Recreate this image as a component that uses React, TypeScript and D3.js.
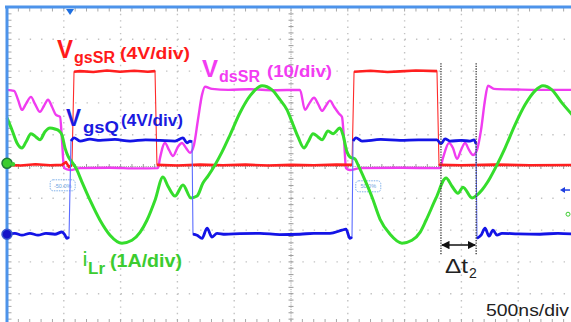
import React from "react";
import * as d3 from "d3";

type P = [number, number];

// time axis: ns (500 ns/div), vertical axis: divisions from screen centre
const timeTicks = [0, 500, 1000, 1500, 2000, 2500, 3000, 3500, 4000, 4500, 5000];
const divTicks = [-5, -4, -3, -2, -1, 0, 1, 2, 3, 4, 5];

const vgsSR: P[] = [
  [0, 0.05], [120, 0.03], [250, 0.07], [380, 0.04], [484, 0.05], [519, 0.14], [546, -0.02], [572, 0.05],
  [590, 2.98], [643, 3.0], [760, 2.97], [880, 3.02], [995, 2.98], [1120, 3.01], [1240, 2.98], [1303, 3.0],
  [1320, 0.05], [1500, 0.03], [1700, 0.06], [1900, 0.04], [2100, 0.06], [2300, 0.03], [2500, 0.05],
  [2700, 0.04], [2900, 0.06], [3037, 0.05], [3055, 2.98], [3200, 3.01], [3350, 2.97], [3460, 2.99],
  [3600, 3.02], [3785, 3.0], [3803, 0.05], [4000, 0.04], [4300, 0.06], [4600, 0.04], [5000, 0.05],
];

const vdsSR: P[] = [
  [0, 2.41], [62, 2.38], [97, 2.1], [132, 1.78], [167, 1.97], [211, 2.19], [246, 1.97], [290, 1.72],
  [326, 1.91], [361, 2.1], [396, 1.88], [431, 1.62], [467, 1.56], [484, 0.84], [502, -0.05], [555, -0.11],
  [643, -0.05], [900, -0.04], [1150, -0.06], [1329, -0.05], [1347, 0.27], [1391, 0.74], [1426, 0.52],
  [1461, 0.33], [1505, 0.62], [1540, 0.74], [1576, 0.58], [1611, 0.43], [1646, 0.68], [1681, 1.47],
  [1717, 2.26], [1743, 2.51], [1805, 2.44], [1950, 2.41], [2139, 2.43], [2350, 2.4], [2579, 2.41],
  [2623, 1.78], [2659, 1.97], [2703, 2.16], [2738, 1.97], [2773, 1.75], [2808, 1.91], [2843, 2.07],
  [2879, 1.88], [2923, 1.66], [2949, 1.56], [2967, 0.84], [2984, -0.05], [3019, -0.11], [3107, -0.05],
  [3450, -0.04], [3812, -0.05], [3838, 0.27], [3891, 0.74], [3926, 0.58], [3961, 0.24], [3997, 0.52],
  [4032, 0.74], [4067, 0.52], [4102, 0.36], [4137, 0.52], [4173, 1.15], [4208, 2.1], [4234, 2.54],
  [4287, 2.44], [4500, 2.42], [4692, 2.41], [5000, 2.41],
];

const vgsQ: P[] = [
  [0, -2.13], [70, -2.1], [132, -2.16], [202, -2.1], [273, -2.16], [343, -2.1], [422, -2.13], [484, -2.06],
  [511, -2.16], [528, -2.26], [546, -2.22], [563, 0.8], [590, 0.9], [643, 0.8], [730, 0.86], [819, 0.82],
  [950, 0.85], [1083, 0.8], [1220, 0.84], [1347, 0.82], [1479, 0.8], [1549, 0.9], [1584, 0.74], [1611, 0.8],
  [1629, 0.77], [1637, -2.13], [1673, -2.16], [1717, -2.26], [1761, -1.94], [1805, -2.22], [1849, -2.1],
  [1919, -2.13], [2050, -2.11], [2227, -2.1], [2400, -2.14], [2579, -2.13], [2700, -2.1], [2843, -2.1],
  [2949, -2.0], [2984, -1.97], [3019, -2.26], [3037, -2.22], [3046, 0.8], [3072, 0.9], [3125, 0.8],
  [3290, 0.85], [3460, 0.82], [3620, 0.84], [3785, 0.84], [3820, 0.71], [3856, 0.87], [3900, 0.8],
  [4000, 0.82], [4076, 0.8], [4111, 0.84], [4129, 0.71], [4137, -2.26], [4173, -2.16], [4208, -1.94],
  [4243, -2.19], [4278, -2.0], [4313, -2.16], [4357, -2.1], [4500, -2.12], [4692, -2.13], [4850, -2.1],
  [5000, -2.13],
];

const iLr: P[] = [
  [0, 1.53], [44, 1.15], [88, 0.74], [132, 0.58], [167, 0.77], [211, 1.03], [255, 0.93], [290, 0.84],
  [334, 1.09], [378, 1.21], [422, 1.18], [458, 1.12], [484, 0.99], [511, 0.58], [537, 0.33], [572, 0.14],
  [607, -0.05], [660, -0.49], [731, -1.06], [819, -1.69], [907, -2.16], [1012, -2.41], [1100, -2.32],
  [1171, -2.07], [1232, -1.69], [1303, -1.06], [1373, -0.33], [1417, -0.62], [1479, -0.93], [1549, -0.58],
  [1620, -0.99], [1673, -0.93], [1725, -0.52], [1769, -0.3], [1831, 0.05], [1893, 0.46], [1963, 0.99],
  [2051, 1.69], [2139, 2.22], [2245, 2.54], [2333, 2.41], [2403, 2.1], [2465, 1.78], [2509, 1.4],
  [2562, 0.93], [2615, 0.58], [2650, 0.77], [2694, 1.03], [2738, 0.93], [2773, 0.84], [2826, 1.12],
  [2870, 1.03], [2931, 1.21], [2958, 0.99], [2993, 0.46], [3019, 0.3], [3063, 0.24], [3090, 0.05],
  [3151, -0.43], [3213, -0.96], [3284, -1.66], [3372, -2.13], [3477, -2.41], [3565, -2.32], [3636, -2.07],
  [3689, -1.69], [3777, -0.99], [3865, -0.36], [3917, -0.62], [3970, -0.84], [4014, -0.65], [4094, -0.99],
  [4137, -0.9], [4181, -0.74], [4225, -0.52], [4252, -0.36], [4313, 0.05], [4384, 0.58], [4472, 1.31],
  [4560, 1.94], [4648, 2.38], [4718, 2.54], [4797, 2.41], [4885, 2.0], [5000, 1.53],
];

const cursorTimes = [3820, 4130];
const triggerTime = 555;
const channelMarkers = [0.1, -2.13];
const triggerLevelTimes = [380, 3070];
const triggerLevelText = ["-50.0%", "50.0%"];

const labelRed = ["V", "gsSR", "(4V/div)"];
const labelMag = ["V", "dsSR", "(10/div)"];
const labelBlue = ["V", "gsQ", "(4V/div)"];
const labelGreen = ["i", "Lr", "(1A/div)"];
const timebaseText = "500ns/div";

const W = 571;
const H = 322;

export default function App() {
  const x = d3.scaleLinear().domain([0, 5000]).range([7, 575]);
  const y = d3.scaleLinear().domain([-5, 5]).range([325.5, 7.5]);
  const xMinor = (x(500) - x(0)) / 5;
  const yMinor = (y(0) - y(1)) / 5;

  const lineSmooth = d3.line<P>().x((d) => x(d[0])).y((d) => y(d[1])).curve(d3.curveMonotoneX);
  const lineLin = d3.line<P>().x((d) => x(d[0])).y((d) => y(d[1]));

  // split into flat runs (thick) and full trace (thin) to mimic fast faint edges
  const flatRuns = (pts: P[]) => {
    const runs: P[][] = [];
    let cur: P[] = [pts[0]];
    for (let i = 1; i < pts.length; i++) {
      const dx = Math.abs(x(pts[i][0]) - x(pts[i - 1][0]));
      const dy = Math.abs(y(pts[i][1]) - y(pts[i - 1][1]));
      if (dy > 20 && dy > 4 * dx) {
        if (cur.length > 1) runs.push(cur);
        cur = [pts[i]];
      } else cur.push(pts[i]);
    }
    if (cur.length > 1) runs.push(cur);
    return runs;
  };

  const minorXs: number[] = [];
  for (let v = x(0); v <= W + 1; v += xMinor) minorXs.push(v);
  const minorYs: number[] = [];
  for (let v = y(5); v <= H + 4; v += yMinor) minorYs.push(v);

  const cx = x(2500);
  const cy = y(0);
  const font = "'Liberation Sans', Arial, sans-serif";

  const label = (
    parts: string[],
    color: string,
    pos: { x: number[]; y: number[]; size: number[]; len: number[] }
  ) =>
    parts.map((p, i) => (
      <text
        key={i}
        x={pos.x[i]}
        y={pos.y[i]}
        fontSize={pos.size[i]}
        fontWeight="bold"
        fill={color}
        textLength={pos.len[i]}
        lengthAdjust="spacingAndGlyphs"
        fontFamily={font}
      >
        {p}
      </text>
    ));

  return (
    <div style={{ position: "fixed", left: 0, top: 0, width: W, height: H, background: "#fff" }}>
      <svg width={W} height={H} style={{ display: "block" }}>
        <rect width={W} height={H} fill="#fff" />
        {/* dotted graticule */}
        {timeTicks
          .filter((t) => t !== 0 && t !== 2500)
          .map((t) => (
            <line
              key={"v" + t}
              x1={x(t)}
              x2={x(t)}
              y1={y(5)}
              y2={H}
              stroke="#c2c2c2"
              strokeWidth={1.4}
              strokeDasharray={`1.4 ${yMinor - 1.4}`}
            />
          ))}
        {divTicks
          .filter((d) => d !== 5 && d !== 0)
          .map((d) => (
            <line
              key={"h" + d}
              x1={x(0)}
              x2={W}
              y1={y(d)}
              y2={y(d)}
              stroke="#c2c2c2"
              strokeWidth={1.4}
              strokeDasharray={`1.4 ${xMinor - 1.4}`}
            />
          ))}
        {/* centre axes with ticks */}
        <line x1={cx} x2={cx} y1={y(5)} y2={H} stroke="#9a9a9a" strokeWidth={1} strokeDasharray="1 1.2" />
        {minorYs.map((v, i) => (
          <line key={"cyt" + i} x1={cx - 2.5} x2={cx + 2.5} y1={v} y2={v} stroke="#9a9a9a" strokeWidth={1} />
        ))}
        <line x1={x(0)} x2={W} y1={cy} y2={cy} stroke="#9a9a9a" strokeWidth={1} strokeDasharray="1 1.2" />
        {minorXs.map((v, i) => (
          <line key={"cxt" + i} x1={v} x2={v} y1={cy - 2.5} y2={cy + 2.5} stroke="#9a9a9a" strokeWidth={1} />
        ))}
        {/* edge ticks */}
        {minorXs.map((v, i) => (
          <line key={"tt" + i} x1={v} x2={v} y1={8} y2={11.5} stroke="#a8a8a8" strokeWidth={1} />
        ))}
        {minorXs.map((v, i) => (
          <line key={"bt" + i} x1={v} x2={v} y1={H - 3} y2={H} stroke="#a8a8a8" strokeWidth={1} />
        ))}
        {minorYs.map((v, i) => (
          <line key={"lt" + i} x1={8} x2={11.5} y1={v} y2={v} stroke="#a8a8a8" strokeWidth={1} />
        ))}

        {/* trigger level boxes */}
        {triggerLevelTimes.map((t, i) => (
          <g key={"tl" + i}>
            <rect
              x={x(t)}
              y={y(-0.45) + (i === 0 ? -1 : 0)}
              width={25}
              height={11}
              rx={3}
              fill="none"
              stroke="#7fb0ea"
              strokeWidth={1}
              strokeDasharray="1.5 1"
            />
            <text x={x(t) + 12.5} y={y(-0.45) + 7.5} fontSize={5.5} fill="#6b9fe0" textAnchor="middle" fontFamily={font}>
              {triggerLevelText[i]}
            </text>
          </g>
        ))}

        {/* traces */}
        <path d={lineSmooth(vdsSR) || ""} fill="none" stroke="#f03cf0" strokeWidth={2.4} strokeLinejoin="round" />
        <path d={lineLin(vgsSR) || ""} fill="none" stroke="#ff2a2a" strokeWidth={1.1} />
        {flatRuns(vgsSR).map((r, i) => (
          <path key={"rr" + i} d={lineLin(r) || ""} fill="none" stroke="#ff1f1f" strokeWidth={2.6} strokeLinejoin="round" />
        ))}
        <path d={lineSmooth(iLr) || ""} fill="none" stroke="#35dd2c" strokeWidth={3} strokeLinejoin="round" />
        <path d={lineLin(vgsQ) || ""} fill="none" stroke="#5b6cff" strokeWidth={1.1} />
        {flatRuns(vgsQ).map((r, i) => (
          <path key={"br" + i} d={lineSmooth(r) || ""} fill="none" stroke="#1414e6" strokeWidth={2.8} strokeLinejoin="round" />
        ))}

        {/* cursors and delta arrow */}
        {cursorTimes.map((t, i) => (
          <line
            key={"cur" + i}
            x1={x(t)}
            x2={x(t)}
            y1={y(3.25)}
            y2={y(-2.8)}
            stroke="#444"
            strokeWidth={1.4}
            strokeDasharray="1.3 1.3"
          />
        ))}
        <defs>
          <marker id="ah" viewBox="0 0 10 10" refX="9" refY="5" markerWidth="6" markerHeight="6" orient="auto-start-reverse">
            <path d="M0,0 L10,5 L0,10 z" fill="#111" />
          </marker>
        </defs>
        <line
          x1={x(cursorTimes[0]) + 1}
          x2={x(cursorTimes[1]) - 1}
          y1={y(-2.47)}
          y2={y(-2.47)}
          stroke="#111"
          strokeWidth={1.4}
          markerStart="url(#ah)"
          markerEnd="url(#ah)"
        />
        <text x={445} y={273} fontSize={20} fill="#222" fontFamily={font} textLength={23} lengthAdjust="spacingAndGlyphs">
          Δt
        </text>
        <text x={469} y={278} fontSize={14} fill="#222" fontFamily={font}>
          2
        </text>

        {/* labels */}
        {label(labelRed, "#ff1a1a", { x: [57, 74, 120], y: [58, 63, 59], size: [25, 16, 16], len: [16, 41, 70] })}
        {label(labelMag, "#f23cf2", { x: [202, 219, 267], y: [77, 82, 77], size: [24, 16, 16], len: [16, 41, 65] })}
        {label(labelBlue, "#1a1ae0", { x: [66, 83, 121], y: [126, 133, 126], size: [23, 16, 16], len: [15, 36, 62] })}
        {label(labelGreen, "#3ccc30", { x: [83, 88, 110], y: [266, 274, 267], size: [20, 16, 18], len: [4, 17, 72] })}

        <text x={486} y={316} fontSize={16} fill="#222" fontFamily={font} textLength={83} lengthAdjust="spacingAndGlyphs">
          {timebaseText}
        </text>

        {/* borders */}
        <line x1={5} x2={W} y1={7} y2={7} stroke="#4d93ea" strokeWidth={3} />
        <line x1={7} x2={7} y1={6} y2={H} stroke="#4d93ea" strokeWidth={3} />

        {/* trigger position marker */}
        <path
          d={`M${x(triggerTime) - 4},${9} L${x(triggerTime) + 4},${9} L${x(triggerTime)},${15} Z`}
          fill="#1f6fe0"
        />
        {/* channel markers */}
        <circle cx={7} cy={y(channelMarkers[0])} r={5} fill="#3ccc30" stroke="#1f7a3a" strokeWidth={1.5} />
        <circle cx={13} cy={y(channelMarkers[0]) + 1} r={2.2} fill="#3ccc30" />
        <circle cx={7} cy={y(channelMarkers[1])} r={5} fill="#1414c8" stroke="#3a5ad0" strokeWidth={1.5} />
        {/* right side offscreen markers */}
        <path d={`M560,${y(-0.74)} L565,${y(-0.74) - 3} L565,${y(-0.74) + 3} Z`} fill="#1f3fe0" />
        <line x1={564} x2={570} y1={y(-0.74)} y2={y(-0.74)} stroke="#1f3fe0" strokeWidth={1.5} />
        <circle cx={568} cy={y(-1.5)} r={2} fill="none" stroke="#3ccc30" strokeWidth={1} />
      </svg>
    </div>
  );
}
